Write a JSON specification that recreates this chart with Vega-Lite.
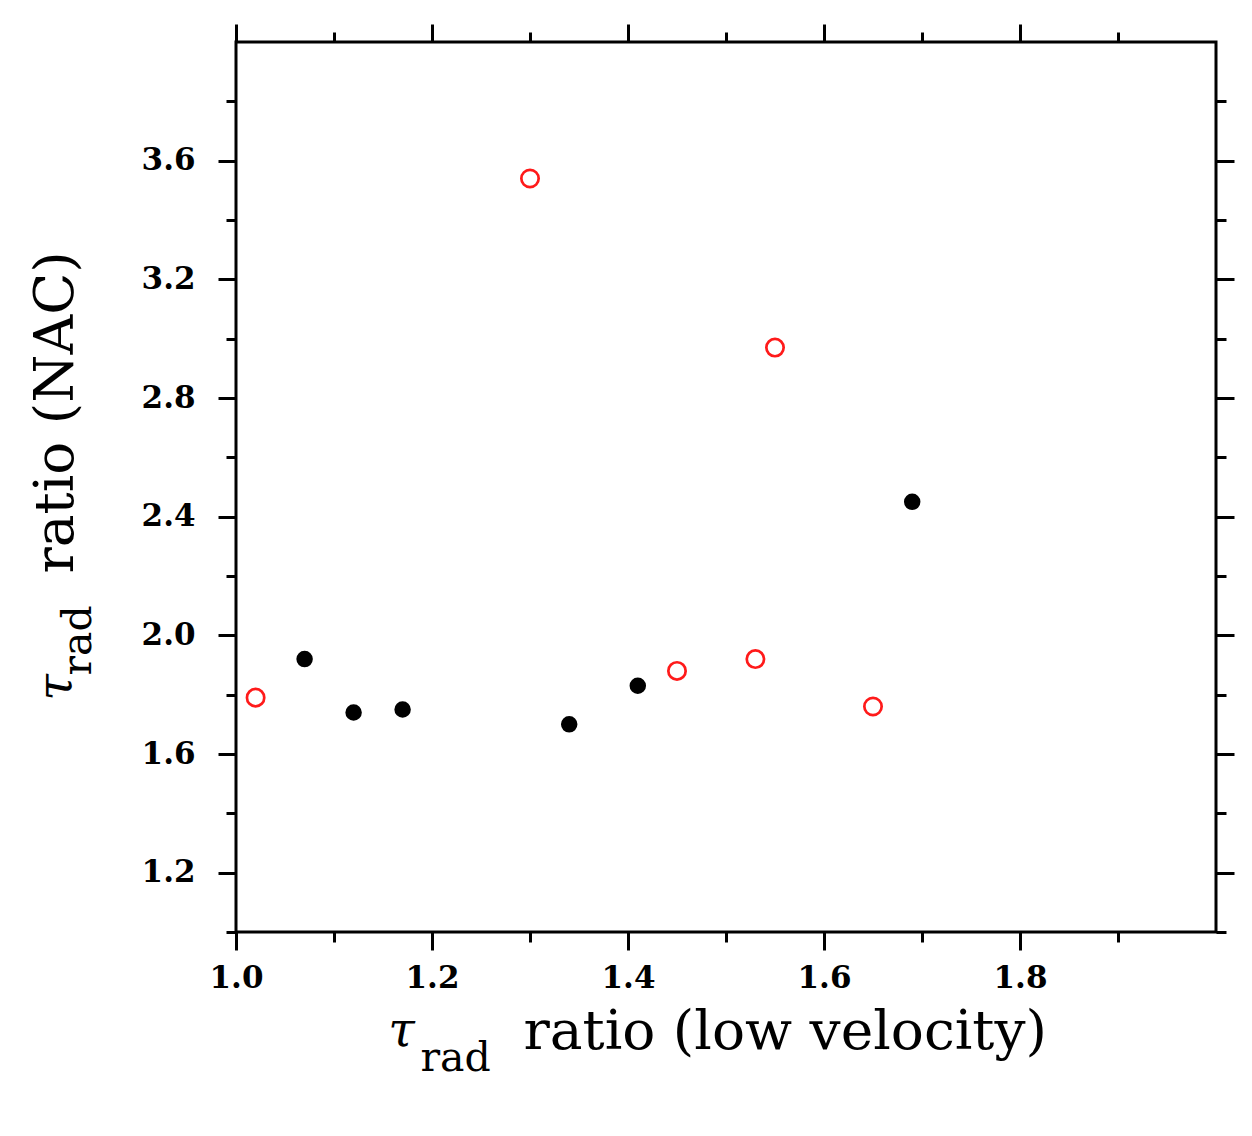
{
  "$schema": "https://vega.github.io/schema/vega-lite/v6.json",
  "width": 980,
  "height": 890,
  "autosize": "none",
  "padding": {"left": 236, "top": 42, "right": 36, "bottom": 204},
  "background": "white",
  "config": {
    "view": {"stroke": "black", "strokeWidth": 3},
    "axis": {"grid": false, "domain": false, "tickColor": "black", "tickWidth": 3, "labelColor": "black", "titleColor": "black", "labelFlush": false}
  },
  "data": {
    "values": [
      {"x": 1.07, "y": 1.92, "group": "filled"},
      {"x": 1.12, "y": 1.74, "group": "filled"},
      {"x": 1.17, "y": 1.75, "group": "filled"},
      {"x": 1.34, "y": 1.70, "group": "filled"},
      {"x": 1.41, "y": 1.83, "group": "filled"},
      {"x": 1.69, "y": 2.45, "group": "filled"},
      {"x": 1.02, "y": 1.79, "group": "open"},
      {"x": 1.30, "y": 3.54, "group": "open"},
      {"x": 1.45, "y": 1.88, "group": "open"},
      {"x": 1.53, "y": 1.92, "group": "open"},
      {"x": 1.55, "y": 2.97, "group": "open"},
      {"x": 1.65, "y": 1.76, "group": "open"}
    ]
  },
  "resolve": {"axis": {"x": "independent", "y": "independent"}},
  "layer": [
    {
      "mark": {"type": "point", "shape": "circle", "strokeWidth": 2.7, "opacity": 1},
      "encoding": {
        "x": {
          "field": "x", "type": "quantitative",
          "scale": {"domain": [1, 2], "nice": false, "zero": false},
          "axis": {
            "orient": "bottom", "values": [1.0, 1.2, 1.4, 1.6, 1.8], "format": ".1f", "labelFlush": false, "labelAlign": "center",
            "tickSize": 18, "labelPadding": 13, "labelFont": "DejaVu Serif", "labelFontWeight": "bold", "labelFontSize": 31,
            "title": "ratio (low velocity)", "titleFont": "DejaVu Serif", "titleFontWeight": "normal", "titleFontSize": 55,
            "titleAlign": "left", "titleBaseline": "alphabetic", "titleX": 287, "titleY": 116
          }
        },
        "y": {
          "field": "y", "type": "quantitative",
          "scale": {"domain": [1, 4], "nice": false, "zero": false},
          "axis": {
            "orient": "left", "values": [1.2, 1.6, 2.0, 2.4, 2.8, 3.2, 3.6], "format": ".1f", "labelFlush": false,
            "tickSize": 18, "labelPadding": 23, "labelFont": "DejaVu Serif", "labelFontWeight": "bold", "labelFontSize": 31,
            "title": "ratio (NAC)", "titleFont": "DejaVu Serif", "titleFontWeight": "normal", "titleFontSize": 55,
            "titleAngle": 270, "titleAlign": "left", "titleBaseline": "alphabetic", "titleX": -164, "titleY": 531
          }
        },
        "fill": {"field": "group", "type": "nominal", "scale": {"domain": ["filled", "open"], "range": ["black", "transparent"]}, "legend": null},
        "stroke": {"field": "group", "type": "nominal", "scale": {"domain": ["filled", "open"], "range": ["black", "#ff1a1a"]}, "legend": null},
        "size": {"field": "group", "type": "nominal", "scale": {"domain": ["filled", "open"], "range": [190, 300]}, "legend": null}
      }
    },
    {
      "mark": {"type": "point", "opacity": 0},
      "encoding": {
        "x": {
          "field": "x", "type": "quantitative",
          "scale": {"domain": [1, 2], "nice": false, "zero": false},
          "axis": {
            "orient": "bottom", "values": [1.1, 1.3, 1.5, 1.7, 1.9], "labels": false, "tickSize": 10,
            "title": "τ", "titleFont": "DejaVu Serif", "titleFontStyle": "italic", "titleFontWeight": "normal", "titleFontSize": 48,
            "titleAlign": "center", "titleBaseline": "alphabetic", "titleX": 165, "titleY": 113
          }
        },
        "y": {
          "field": "y", "type": "quantitative",
          "scale": {"domain": [1, 4], "nice": false, "zero": false},
          "axis": {
            "orient": "left", "values": [1.0, 1.4, 1.8, 2.2, 2.6, 3.0, 3.4, 3.8], "labels": false, "tickSize": 10,
            "title": "τ", "titleFont": "DejaVu Serif", "titleFontStyle": "italic", "titleFontWeight": "normal", "titleFontSize": 48,
            "titleAngle": 270, "titleAlign": "center", "titleBaseline": "alphabetic", "titleX": -166, "titleY": 645
          }
        }
      }
    },
    {
      "mark": {"type": "point", "opacity": 0},
      "encoding": {
        "x": {
          "field": "x", "type": "quantitative",
          "scale": {"domain": [1, 2], "nice": false, "zero": false},
          "axis": {
            "orient": "top", "values": [1.0, 1.2, 1.4, 1.6, 1.8], "labels": false, "tickSize": 18,
            "title": "rad", "titleFont": "DejaVu Serif", "titleFontWeight": "normal", "titleFontSize": 41,
            "titleAlign": "left", "titleBaseline": "alphabetic", "titleX": 184, "titleY": 1028
          }
        },
        "y": {
          "field": "y", "type": "quantitative",
          "scale": {"domain": [1, 4], "nice": false, "zero": false},
          "axis": {
            "orient": "right", "values": [1.2, 1.6, 2.0, 2.4, 2.8, 3.2, 3.6], "labels": false, "tickSize": 18,
            "title": "rad", "titleFont": "DejaVu Serif", "titleFontWeight": "normal", "titleFontSize": 41,
            "titleAngle": 270, "titleAlign": "left", "titleBaseline": "alphabetic", "titleX": -1126, "titleY": 633
          }
        }
      }
    },
    {
      "mark": {"type": "point", "opacity": 0},
      "encoding": {
        "x": {
          "field": "x", "type": "quantitative",
          "scale": {"domain": [1, 2], "nice": false, "zero": false},
          "axis": {"orient": "top", "values": [1.1, 1.3, 1.5, 1.7, 1.9], "labels": false, "tickSize": 10, "title": null}
        },
        "y": {
          "field": "y", "type": "quantitative",
          "scale": {"domain": [1, 4], "nice": false, "zero": false},
          "axis": {"orient": "right", "values": [1.0, 1.4, 1.8, 2.2, 2.6, 3.0, 3.4, 3.8], "labels": false, "tickSize": 10, "title": null}
        }
      }
    }
  ]
}
